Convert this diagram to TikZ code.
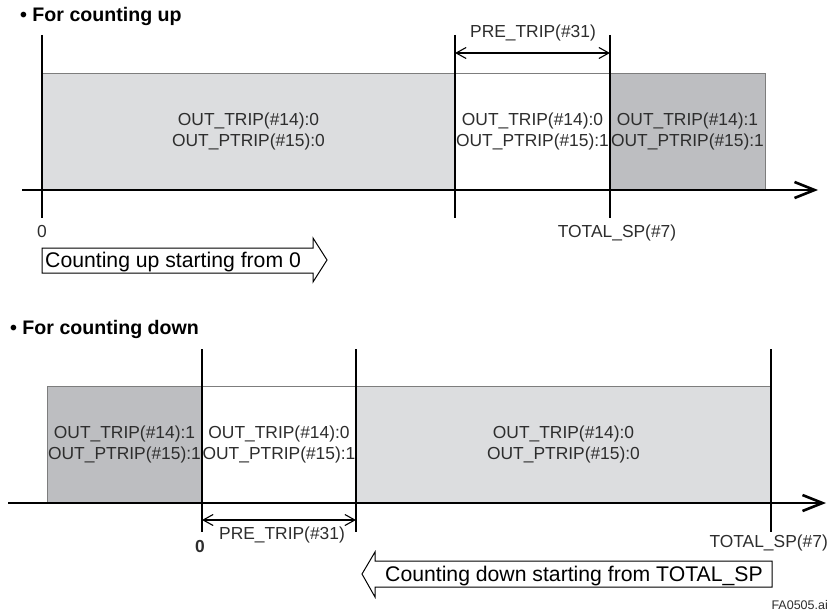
\documentclass[tikz,border=0pt]{standalone}
\usepackage{fontspec}
\setmainfont{Liberation Sans}
\usepackage{tikz}
\usetikzlibrary{arrows.meta, positioning}
\definecolor{paleshade}{RGB}{220, 221, 223}
\definecolor{darkshade}{RGB}{189, 190, 193}
\definecolor{edgegray}{RGB}{125, 125, 125}
\definecolor{textgray}{RGB}{45, 45, 45}

\begin{document}
\begin{tikzpicture}[
    x=1pt, y=-1pt,
    phase/.style={draw=edgegray, line width=0.8pt, minimum height=116pt, inner sep=0pt,
                  outer sep=0pt, align=center, text=textgray, font=\fontsize{17.4}{21}\selectfont},
    limitline/.style={line width=1.2pt},
    timeline/.style={-{Straight Barb[length=20pt, width=16pt]}, line width=2.6pt},
    dimarrow/.style={{Straight Barb[length=10pt, width=11pt]}-{Straight Barb[length=10pt, width=11pt]}, line width=1.1pt},
    lbl/.style={inner sep=0pt, text=textgray, font=\fontsize{17.4}{21}\selectfont},
    heading/.style={anchor=west, inner sep=0pt, font=\fontsize{19.6}{23}\selectfont\bfseries},
    blockarrow/.style={draw, line width=1pt, fill=white},
    blocktext/.style={anchor=base west, inner sep=0pt, font=\fontsize{21.2}{25}\selectfont}
]
    \useasboundingbox (0,0) rectangle (830,615);

    % counting up
    \node[heading] (uptitle) at (20,16) {• For counting up};
    \node[phase, fill=paleshade, minimum width=413pt, anchor=south west] (upnormal) at (42,189.5)
        {OUT\_TRIP(\#14):0\\OUT\_PTRIP(\#15):0};
    \node[phase, fill=white, minimum width=155pt, right=0pt of upnormal] (uppre)
        {OUT\_TRIP(\#14):0\\OUT\_PTRIP(\#15):1};
    \node[phase, fill=darkshade, minimum width=155pt, right=0pt of uppre] (uptrip)
        {OUT\_TRIP(\#14):1\\OUT\_PTRIP(\#15):1};

    \foreach \x in {42,455,610}
        \draw[limitline] (\x,35) -- (\x,218);

    \coordinate (uppreL) at (455,53);
    \coordinate (uppreR) at (610,53);
    \draw[dimarrow] (uppreL) -- (uppreR);
    \node[lbl] (uppretext) at (533,33) {PRE\_TRIP(\#31)};

    \coordinate (upstart) at (22,190);
    \coordinate (upend) at (818,190);
    \draw[timeline] (upstart) -- (upend);

    \node[lbl] (upzero) at (42,232) {0};
    \node[lbl] (upsp) at (617,233) {TOTAL\_SP(\#7)};

    \draw[blockarrow] (42,248) -- (313,248) -- (313,238) -- (327,260) -- (313,282)
        -- (313,273) -- (42,273) -- cycle;
    \node[blocktext] (uparrow) at (45,267) {Counting up starting from 0};

    % counting down
    \node[heading] (downtitle) at (10,329) {• For counting down};
    \node[phase, fill=darkshade, minimum width=155pt, minimum height=117pt, anchor=south west] (downtrip) at (47,503)
        {OUT\_TRIP(\#14):1\\OUT\_PTRIP(\#15):1};
    \node[phase, fill=white, minimum width=154pt, minimum height=117pt, right=0pt of downtrip] (downpre)
        {OUT\_TRIP(\#14):0\\OUT\_PTRIP(\#15):1};
    \node[phase, fill=paleshade, minimum width=415pt, minimum height=117pt, right=0pt of downpre] (downnormal)
        {OUT\_TRIP(\#14):0\\OUT\_PTRIP(\#15):0};

    \foreach \x in {202,356,771}
        \draw[limitline] (\x,349) -- (\x,532);

    \coordinate (downpreL) at (202,520);
    \coordinate (downpreR) at (356,520);
    \draw[dimarrow] (downpreL) -- (downpreR);
    \node[lbl] (downpretext) at (282,535) {PRE\_TRIP(\#31)};

    \coordinate (downstart) at (8,503);
    \coordinate (downend) at (826,503);
    \draw[timeline] (downstart) -- (downend);

    \node[lbl, font=\fontsize{17.4}{21}\selectfont\bfseries] (downzero) at (200,547) {0};
    \node[lbl, anchor=east] (downsp) at (828,543) {TOTAL\_SP(\#7)};

    \draw[blockarrow] (772,561) -- (375,561) -- (375,552) -- (362,574) -- (375,597)
        -- (375,587) -- (772,587) -- cycle;
    \node[blocktext] (downarrow) at (385,581) {Counting down starting from TOTAL\_SP};

    \node[lbl, anchor=east, font=\fontsize{12.5}{15}\selectfont] (figname) at (828,605) {FA0505.ai};
\end{tikzpicture}
\end{document}
